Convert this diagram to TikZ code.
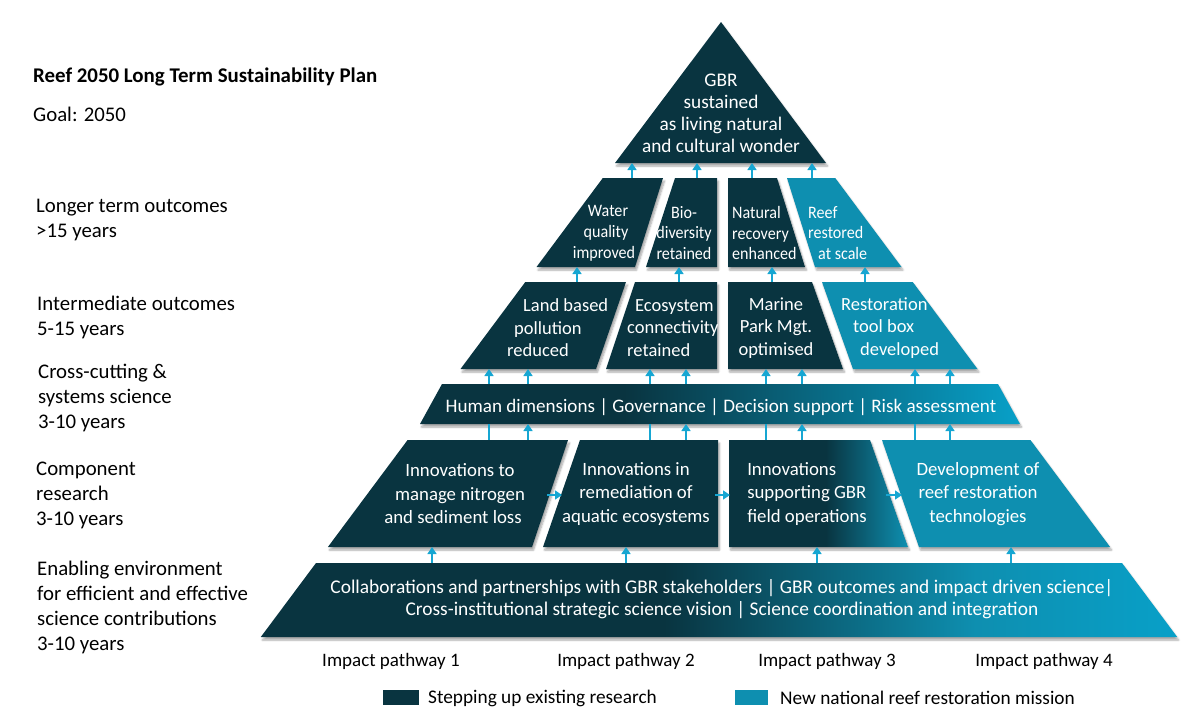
\documentclass[tikz,border=0pt]{standalone}
\usepackage{fontspec}
\setmainfont{Carlito}
\newfontfamily\condfont[FakeStretch=0.92]{Carlito}
\usetikzlibrary{arrows.meta,shadows.blur}

\definecolor{dk}{RGB}{9,52,64}
\definecolor{cy}{RGB}{14,143,176}
\definecolor{cyb}{RGB}{8,160,200}
\definecolor{arr}{RGB}{22,166,210}

\pgfdeclarehorizontalshading{barshade}{100bp}{color(0bp)=(dk); color(25bp)=(dk); color(42bp)=(dk); color(75bp)=(cyb); color(100bp)=(cyb)}
\pgfdeclarehorizontalshading{baseshade}{100bp}{color(0bp)=(dk); color(25bp)=(dk); color(47bp)=(dk); color(64bp)=(cy); color(75bp)=(cyb); color(100bp)=(cyb)}
\pgfdeclarehorizontalshading{pthreeshade}{100bp}{color(0bp)=(dk); color(25bp)=(dk); color(52bp)=(dk); color(75bp)=(cy); color(100bp)=(cy)}

\tikzset{
  shd/.style={blur shadow={shadow xshift=1.5pt, shadow yshift=-3pt, shadow opacity=35, shadow blur steps=6}},
  dkpiece/.style={fill=dk, shd},
  cypiece/.style={fill=cy, shd},
  ptext/.style={text=white, align=center, inner sep=0pt, font=\fontsize{18.8}{23.5}\selectfont},
  rtwo/.style={ptext, font=\condfont\fontsize{17.5}{20.8}\selectfont},
  rthree/.style={ptext, font=\fontsize{18.5}{22.5}\selectfont},
  lab/.style={inner sep=0pt, align=left, anchor=base west, font=\fontsize{20.8}{25}\selectfont},
  bl/.style={inner sep=0pt, font=\fontsize{19}{22}\selectfont},
  arw/.style={draw=arr, line width=1.5pt, -{Triangle[width=9pt,length=7pt]}},
  pln/.style={draw=arr, line width=1.5pt},
  keybox/.style={inner sep=0pt, minimum width=36pt, minimum height=15pt}
}

\begin{document}
\begin{tikzpicture}[x=1pt,y=-1pt]
\useasboundingbox (0,0) rectangle (1200,720);

% ---------- left labels (anchored at the baseline of the last line) ----------
\node[lab, font=\fontsize{20.9}{25}\selectfont] (title) at (33,82.5) {\bfseries Reef 2050 Long Term Sustainability Plan};
\node[lab] (goal) at (33,121) {Goal: 2050};
\node[lab] (lt) at (36,237.5) {Longer term outcomes\\>15 years};
\node[lab] (im) at (37,335) {Intermediate outcomes\\5-15 years};
\node[lab] (cs) at (38,428) {Cross-cutting \&\\systems science\\3-10 years};
\node[lab] (cr) at (36,525) {Component\\research\\3-10 years};
\node[lab] (ee) at (37,650) {Enabling environment\\for efficient and effective\\science contributions\\3-10 years};

% ---------- pyramid shapes ----------
% top
\path[dkpiece] (721,22) -- (826,163) -- (615,163) -- cycle;
% row 2
\path[dkpiece] (602.8,178) -- (663,178) -- (635,267) -- (536.5,267) -- cycle;
\path[dkpiece] (675,178) -- (717,178) -- (717,267) -- (646,267) -- cycle;
\path[dkpiece] (728,178) -- (777,178) -- (805,267) -- (728,267) -- cycle;
\path[cypiece] (787,178) -- (835.2,178) -- (901.5,267) -- (815,267) -- cycle;
% row 3
\path[dkpiece] (525.3,282) -- (626,282) -- (596,369) -- (460.5,369) -- cycle;
\path[dkpiece] (635,282) -- (717,282) -- (717,369) -- (606,369) -- cycle;
\path[dkpiece] (728,282) -- (812,282) -- (843,369) -- (728,369) -- cycle;
\path[cypiece] (822,282) -- (912.7,282) -- (977.5,369) -- (853,369) -- cycle;
% row 4 bar
\path[shd, shading=barshade] (442,384) -- (998,384) -- (1020,424) -- (420,424) -- cycle;
% row 5
\path[dkpiece] (407.6,440) -- (568,440) -- (532,547) -- (327.9,547) -- cycle;
\path[dkpiece] (580,440) -- (718,440) -- (718,547) -- (543,547) -- cycle;
\path[shd, shading=pthreeshade] (729,440) -- (870,440) -- (908,547) -- (729,547) -- cycle;
\path[cypiece] (882,440) -- (1030.4,440) -- (1110.1,547) -- (919,547) -- cycle;
% row 6
\path[shd, shading=baseshade] (316,563) -- (1122,563) -- (1177.2,637) -- (260.8,637) -- cycle;

% ---------- pyramid texts ----------
\node[ptext, font=\fontsize{19.3}{22}\selectfont] (gbr) at (721,113) {GBR\\sustained\\as living natural\\and cultural wonder};

\node[rtwo] (wq) at (604,233) {\hspace*{8pt}Water\\\hspace*{4pt}quality\\improved};
\node[rtwo] (bd) at (684,233) {Bio-\\diversity\\retained};
\node[rtwo, align=left, anchor=west] (nr) at (732,233) {Natural\\recovery\\enhanced};
\node[rtwo, align=left, anchor=west] (rr) at (808,233) {Reef\\restored\\\hspace*{10pt}at scale};

\node[rthree, align=left, anchor=west] (lb) at (507,328) {\hspace*{16pt}Land based\\\hspace*{7pt}pollution\\reduced};
\node[rthree, align=left, anchor=west] (ec) at (627,328) {\hspace*{8pt}Ecosystem\\connectivity\\retained};
\node[rthree] (mp) at (776,328) {Marine\\Park Mgt.\\optimised};
\node[rthree, align=left, anchor=west] (rt) at (841,328) {Restoration\\\hspace*{12pt}tool box\\\hspace*{19pt}developed};

\node[ptext, font=\fontsize{19.1}{23.5}\selectfont] (cc) at (721,407) {Human dimensions | Governance | Decision support | Risk assessment};

\node[ptext] (inone) at (460,494) {Innovations to\\manage nitrogen\\and sediment loss\hspace*{14pt}};
\node[ptext] (intwo) at (636,494) {Innovations in\\remediation of\\aquatic ecosystems};
\node[ptext, align=left] (inthree) at (807,494) {Innovations\\supporting GBR\\field operations};
\node[ptext] (infour) at (978,494) {Development of\\reef restoration\\technologies};

\node[ptext, font=\fontsize{19.4}{22.5}\selectfont] (en) at (722,599) {Collaborations and partnerships with GBR stakeholders | GBR outcomes and impact driven science|\\Cross-institutional strategic science vision | Science coordination and integration};

% ---------- vertical arrows ----------
\foreach \i/\x in {1/632,2/697,3/752,4/812} {
  \coordinate (ta\i) at (\x,178); \coordinate (tb\i) at (\x,163);
  \draw[arw] (ta\i) -- (tb\i);
}
\foreach \i/\x in {1/577,2/679,3/772,4/865} {
  \coordinate (sa\i) at (\x,282); \coordinate (sb\i) at (\x,267);
  \draw[arw] (sa\i) -- (sb\i);
}
\foreach \i/\x in {1/489,2/528,3/650,4/686,5/766,6/802,7/915,8/950} {
  \coordinate (ra\i) at (\x,384); \coordinate (rb\i) at (\x,369);
  \draw[arw] (ra\i) -- (rb\i);
}
\foreach \i/\x in {1/489,2/650,3/766,4/915} {
  \coordinate (qa\i) at (\x,440); \coordinate (qb\i) at (\x,424);
  \draw[pln] (qa\i) -- (qb\i);
}
\foreach \i/\x in {1/528,2/686,3/802,4/950} {
  \coordinate (pa\i) at (\x,440); \coordinate (pb\i) at (\x,424);
  \draw[arw] (pa\i) -- (pb\i);
}
\foreach \i/\x in {1/432,2/626,3/817,4/1011} {
  \coordinate (oa\i) at (\x,563); \coordinate (ob\i) at (\x,547);
  \draw[arw] (oa\i) -- (ob\i);
}
% horizontal arrows
\coordinate (h1a) at (547,495); \coordinate (h1b) at (562,495);
\coordinate (h2a) at (715,495); \coordinate (h2b) at (730,495);
\coordinate (h3a) at (886,495); \coordinate (h3b) at (902,495);
\draw[arw] (h1a) -- (h1b);
\draw[arw] (h2a) -- (h2b);
\draw[arw] (h3a) -- (h3b);

% ---------- bottom labels ----------
\node[bl] (ip1) at (391,661) {Impact pathway 1};
\node[bl] (ip2) at (626,661) {Impact pathway 2};
\node[bl] (ip3) at (827,661) {Impact pathway 3};
\node[bl] (ip4) at (1044,661) {Impact pathway 4};

\node[keybox, fill=dk] (k1) at (401,697.5) {};
\node[bl, anchor=west, font=\fontsize{19.3}{22}\selectfont] (k1t) at (428,698) {Stepping up existing research};
\node[keybox, minimum width=33pt, fill=cy] (k2) at (751.5,697.5) {};
\node[bl, anchor=west, font=\fontsize{19.3}{22}\selectfont] (k2t) at (780,698) {New national reef restoration mission};
\end{tikzpicture}
\end{document}
